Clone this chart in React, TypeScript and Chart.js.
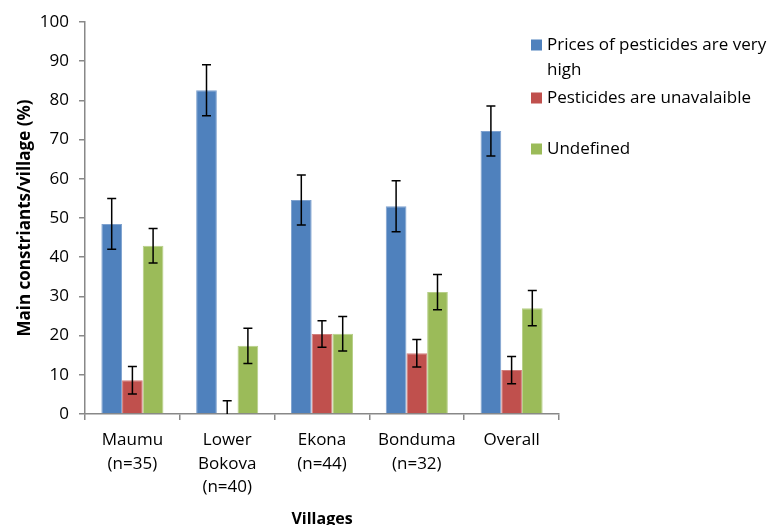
import React, { useEffect, useRef } from "react";
import { Chart, registerables } from "chart.js";

Chart.register(...registerables);

const categories: string[][] = [
  ["Maumu", "(n=35)"],
  ["Lower", "Bokova", "(n=40)"],
  ["Ekona", "(n=44)"],
  ["Bonduma", "(n=32)"],
  ["Overall"],
];
const seriesNames = ["Prices of pesticides are very high", "Pesticides are unavalaible", "Undefined"];
const legendLines: string[][] = [["Prices of pesticides are very", "high"], ["Pesticides are unavalaible"], ["Undefined"]];
const pricesHigh = [48.5, 82.6, 54.6, 53.0, 72.2];
const pricesHighErr = [6.5, 6.5, 6.4, 6.5, 6.4];
const unavailable = [8.6, 0, 20.4, 15.5, 11.2];
const unavailableErr = [3.5, 3.4, 3.4, 3.5, 3.5];
const undefinedVals = [42.9, 17.4, 20.5, 31.1, 27.0];
const undefinedErr = [4.4, 4.5, 4.4, 4.5, 4.5];
const yTicks = [0, 10, 20, 30, 40, 50, 60, 70, 80, 90, 100];

const colors = ["#4F81BD", "#C0504D", "#9BBB59"];
const borders = ["#7FA2CF", "#D27E7C", "#B7CF88"];
const FONT = "'Open Sans'";
const W = 769;
const H = 525;

const errorBarPlugin = {
  id: "errorBars",
  afterDatasetsDraw(chart: any) {
    const ctx = chart.ctx;
    const yScale = chart.scales.y;
    const errs = [pricesHighErr, unavailableErr, undefinedErr];
    ctx.save();
    ctx.strokeStyle = "#000";
    ctx.lineWidth = 1.5;
    chart.data.datasets.forEach((ds: any, di: number) => {
      const meta = chart.getDatasetMeta(di);
      meta.data.forEach((bar: any, i: number) => {
        const v = ds.data[i];
        const e = errs[di][i];
        const hi = v + e;
        const lo = Math.max(0, v - e);
        const x = bar.x;
        const yHi = yScale.getPixelForValue(hi);
        const yLo = yScale.getPixelForValue(lo);
        ctx.beginPath();
        ctx.moveTo(x, yHi);
        ctx.lineTo(x, yLo);
        ctx.moveTo(x - 4.5, yHi);
        ctx.lineTo(x + 4.5, yHi);
        if (v - e >= 0) {
          ctx.moveTo(x - 4.5, yLo);
          ctx.lineTo(x + 4.5, yLo);
        }
        ctx.stroke();
      });
    });
    ctx.restore();
  },
};

const legendPlugin = {
  id: "customLegend",
  afterDraw(chart: any) {
    const ctx = chart.ctx;
    ctx.save();
    ctx.font = `17px ${FONT}`;
    ctx.fillStyle = "#000";
    ctx.textBaseline = "middle";
    const itemY = [45, 98, 149];
    legendLines.forEach((lines, i) => {
      ctx.fillStyle = colors[i];
      ctx.fillRect(531, itemY[i] - 5.5, 11, 11);
      ctx.fillStyle = "#000";
      lines.forEach((t, j) => {
        ctx.fillText(t, 547, itemY[i] + j * 25);
      });
    });
    ctx.restore();
  },
};

export default function App() {
  const ref = useRef<HTMLCanvasElement>(null);
  useEffect(() => {
    if (!ref.current) return;
    const chart = new Chart(ref.current, {
      type: "bar",
      data: {
        labels: categories,
        datasets: [pricesHigh, unavailable, undefinedVals].map((d, i) => ({
          label: seriesNames[i],
          data: d,
          backgroundColor: colors[i],
          borderColor: borders[i],
          borderWidth: 1,
          categoryPercentage: 0.655,
          barPercentage: 1,
        })),
      },
      options: {
        animation: false,
        responsive: false,
        maintainAspectRatio: false,
        layout: { padding: { top: 22, right: W - 559, bottom: 0, left: 0 } },
        plugins: { legend: { display: false }, tooltip: { enabled: false } },
        scales: {
          x: {
            grid: { drawOnChartArea: false, tickLength: 6, color: "#888", lineWidth: 1.5 },
            border: { color: "#888", width: 1.5 },
            ticks: { color: "#000", font: { family: FONT, size: 17, lineHeight: 1.4 }, padding: 8, maxRotation: 0, autoSkip: false },
            title: { display: true, text: "Villages", color: "#000", font: { family: FONT, size: 16, weight: "bold" }, padding: { bottom: -3.6, top: 0 } },
            afterFit(scale: any) { scale.height = H - 414; },
          },
          y: {
            min: 0,
            max: 100,
            afterBuildTicks(scale: any) { scale.ticks = yTicks.map((v) => ({ value: v })); },
            grid: { drawOnChartArea: false, tickLength: 6, color: "#888", lineWidth: 1.5 },
            border: { color: "#888", width: 1.5 },
            ticks: { color: "#000", font: { family: FONT, size: 17 }, padding: 10 },
            title: { display: true, text: "Main constriants/village (%)", color: "#000", font: { family: FONT, size: 17, weight: "bold" }, padding: { top: 15, bottom: 0 } },
            afterFit(scale: any) { scale.width = 85; },
          },
        },
      },
      plugins: [errorBarPlugin, legendPlugin],
    });
    return () => chart.destroy();
  }, []);
  return (
    <div style={{ position: "fixed", left: 0, top: 0, width: W, height: H }}>
      <canvas ref={ref} width={W} height={H} style={{ width: W, height: H, display: "block" }} />
    </div>
  );
}
